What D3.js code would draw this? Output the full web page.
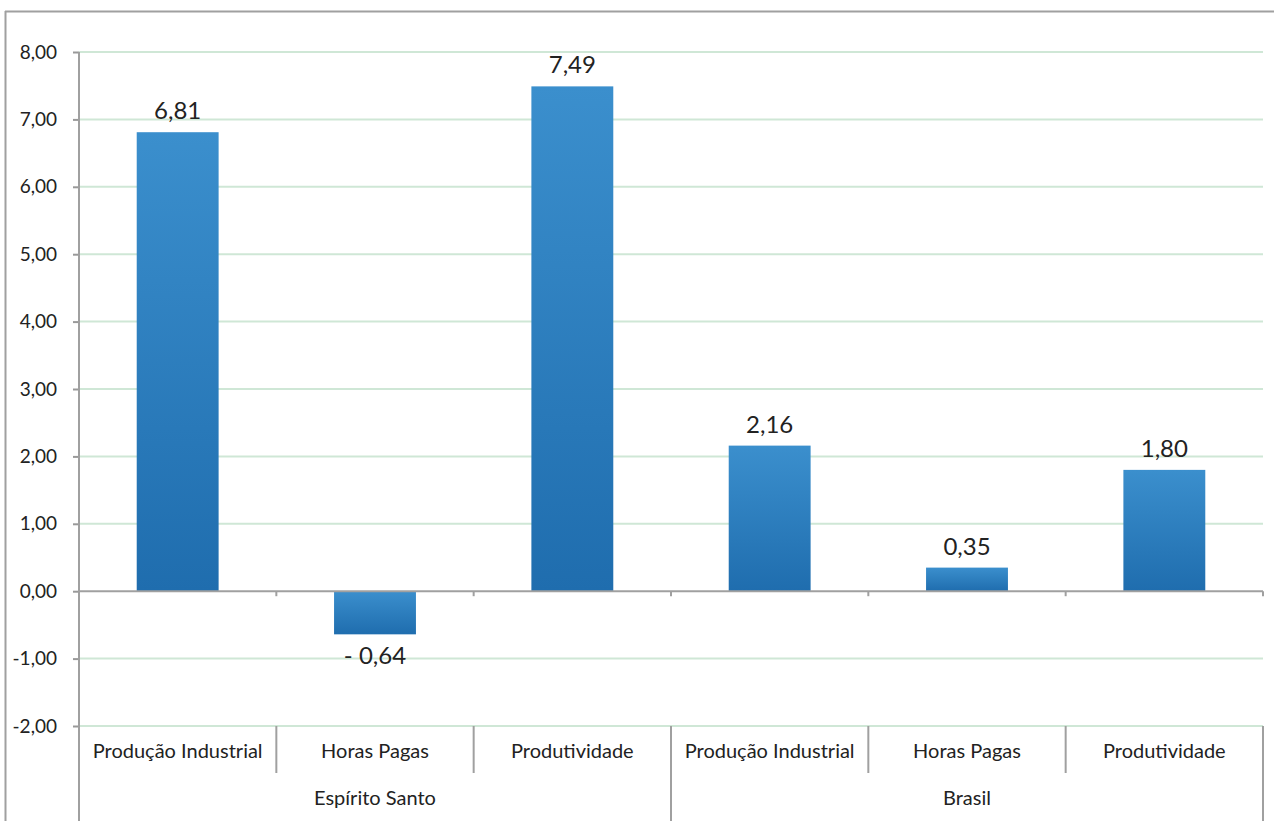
<!DOCTYPE html>
<html>
<head>
<meta charset="utf-8">
<script src="https://cdn.jsdelivr.net/npm/d3@7"></script>
<style>
  body { margin: 0; background: #fff; }
  text { font-family: Lato, "Open Sans", sans-serif; fill: #222; }
</style>
</head>
<body>
<div id="chart"></div>
<script>
// data
var groups = ["Espírito Santo", "Brasil"];
var categories = ["Produção Industrial", "Horas Pagas", "Produtividade"];
var values = [6.81, -0.64, 7.49, 2.16, 0.35, 1.80];
var yTicks = [-2, -1, 0, 1, 2, 3, 4, 5, 6, 7, 8];

var W = 1274, H = 821;
var margin = { top: 52, left: 79, right: 11 };
var plotBottom = 726;

// pt-BR style numbers: comma decimal, plain hyphen for minus
var fmt = d3.formatLocale({ decimal: ",", thousands: ".", grouping: [3], currency: ["R$", ""], minus: "-" }).format(".2f");

var svg = d3.select("#chart").append("svg")
  .attr("width", W).attr("height", H);

var defs = svg.append("defs");
var grad = defs.append("linearGradient")
  .attr("id", "barGrad").attr("x1", 0).attr("y1", 0).attr("x2", 0).attr("y2", 1);
grad.append("stop").attr("offset", "0%").attr("stop-color", "#3b8fcd");
grad.append("stop").attr("offset", "100%").attr("stop-color", "#1f6dae");

// frame
svg.append("line").attr("x1", 5.5).attr("x2", 5.5).attr("y1", 11).attr("y2", H)
  .attr("stroke", "#a0a0a0").attr("stroke-width", 2);
svg.append("line").attr("x1", 5).attr("x2", W).attr("y1", 11.5).attr("y2", 11.5)
  .attr("stroke", "#a0a0a0").attr("stroke-width", 2);

var keys = [];
groups.forEach(function (g, gi) {
  categories.forEach(function (c, ci) { keys.push(gi + "|" + ci); });
});

var x = d3.scaleBand()
  .domain(keys)
  .range([margin.left, W - margin.right])
  .paddingInner(0).paddingOuter(0);

var y = d3.scaleLinear()
  .domain([-2, 8])
  .range([plotBottom, margin.top]);

// gridlines
svg.append("g").selectAll("line")
  .data(yTicks.filter(function (d) { return d !== 0; }))
  .enter().append("line")
  .attr("x1", margin.left).attr("x2", W - margin.right)
  .attr("y1", function (d) { return y(d); }).attr("y2", function (d) { return y(d); })
  .attr("stroke", "#cfe7d6").attr("stroke-width", 2);

// y axis
var yAxis = svg.append("g")
  .attr("transform", "translate(" + margin.left + ",0)")
  .call(d3.axisLeft(y).tickValues(yTicks).tickSize(6).tickPadding(16).tickFormat(fmt));
yAxis.select(".domain").remove();
yAxis.selectAll(".tick line").attr("stroke", "#999").attr("stroke-width", 2);
yAxis.selectAll(".tick text").style("font-size", "19px").attr("fill", "#222");
svg.append("line").attr("x1", margin.left).attr("x2", margin.left)
  .attr("y1", margin.top).attr("y2", H)
  .attr("stroke", "#a0a0a0").attr("stroke-width", 2);

// bars
var bw = x.bandwidth() * 0.415;
svg.append("g").selectAll("rect")
  .data(values)
  .enter().append("rect")
  .attr("x", function (d, i) { return x(keys[i]) + (x.bandwidth() - bw) / 2; })
  .attr("y", function (d) { return y(Math.max(0, d)); })
  .attr("width", bw)
  .attr("height", function (d) { return Math.abs(y(d) - y(0)); })
  .attr("fill", "url(#barGrad)");

// zero line
svg.append("line").attr("x1", margin.left).attr("x2", W - margin.right)
  .attr("y1", y(0)).attr("y2", y(0))
  .attr("stroke", "#a0a0a0").attr("stroke-width", 2);
svg.append("g").selectAll("line")
  .data(keys.slice(1).concat(["end"]))
  .enter().append("line")
  .attr("x1", function (d) { return d === "end" ? W - margin.right : x(d); })
  .attr("x2", function (d) { return d === "end" ? W - margin.right : x(d); })
  .attr("y1", y(0)).attr("y2", y(0) + 5)
  .attr("stroke", "#a0a0a0").attr("stroke-width", 2);

// value labels
svg.append("g").selectAll("text")
  .data(values)
  .enter().append("text")
  .attr("x", function (d, i) { return x(keys[i]) + x.bandwidth() / 2; })
  .attr("y", function (d) { return d >= 0 ? y(d) - 13 : y(d) + 30; })
  .attr("text-anchor", "middle")
  .style("font-size", "24px")
  .text(function (d) {
    var s = fmt(Math.abs(d));
    return d < 0 ? "- " + s : s;
  });

// category separators
svg.append("g").selectAll("line")
  .data(keys.concat(["end"]))
  .enter().append("line")
  .attr("x1", function (d) { return d === "end" ? W - margin.right : x(d); })
  .attr("x2", function (d) { return d === "end" ? W - margin.right : x(d); })
  .attr("y1", plotBottom)
  .attr("y2", function (d) {
    if (d === "end") return H;
    return d.split("|")[1] === "0" ? H : 773;
  })
  .attr("stroke", "#a0a0a0").attr("stroke-width", 2);

// category labels
svg.append("g").selectAll("text")
  .data(keys)
  .enter().append("text")
  .attr("x", function (d) { return x(d) + x.bandwidth() / 2; })
  .attr("y", 758)
  .attr("text-anchor", "middle")
  .style("font-size", "20px")
  .text(function (d) { return categories[+d.split("|")[1]]; });

// group labels
svg.append("g").selectAll("text")
  .data(groups)
  .enter().append("text")
  .attr("x", function (d, gi) {
    return (x(gi + "|0") + x(gi + "|2") + x.bandwidth()) / 2;
  })
  .attr("y", 805)
  .attr("text-anchor", "middle")
  .style("font-size", "20px")
  .text(function (d) { return d; });
</script>
</body>
</html>
